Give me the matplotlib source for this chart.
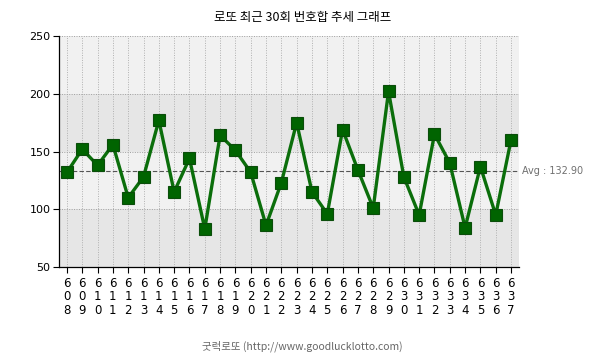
import matplotlib.pyplot as plt

plt.rcParams['font.family'] = ['Noto Sans CJK KR', 'DejaVu Sans']

rounds = list(range(608, 638))
sums = [132, 152, 138, 156, 110, 128, 177, 115, 144, 83,
        164, 151, 132, 86, 123, 175, 115, 96, 169, 134,
        101, 202, 128, 95, 165, 140, 84, 137, 95, 160]
avg = 132.90
y_ticks = [50, 100, 150, 200, 250]

fig = plt.figure(figsize=(6.05, 3.59), dpi=100)
ax = fig.add_axes([59 / 605, 1 - 267 / 359, 460 / 605, 231 / 359])

x = list(range(len(rounds)))

# alternating bands
band_cols = ['#e6e6e6', '#f1f1f1', '#e6e6e6', '#f1f1f1']
for i in range(4):
    ax.axhspan(y_ticks[i], y_ticks[i + 1], color=band_cols[i], zorder=0, lw=0)

for xi in x:
    ax.axvline(xi, color='#b0b0b0', lw=0.7, ls=(0, (1, 1.5)), zorder=1)
for yv in y_ticks[1:]:
    ax.axhline(yv, color='#a0a0a0', lw=0.7, ls=(0, (1, 1.5)), zorder=1)
ax.axvline(len(rounds) - 0.48, color='#b0b0b0', lw=0.7, ls=(0, (1, 1.5)), zorder=1)

ax.axhline(avg, color='#555555', lw=0.8, ls=(0, (4, 2)), zorder=2)
ax.text(len(rounds) - 0.3, avg, 'Avg : %.2f' % avg, color='#707070',
        fontsize=7, va='center', ha='left', family='DejaVu Sans')

ax.plot(x, sums, color='#0b6e0b', lw=2.4, marker='s', markersize=8.5,
        markerfacecolor='#006400', markeredgecolor='#0a4d0a',
        markeredgewidth=0.8, zorder=3)

ax.set_xlim(-0.52, len(rounds) - 0.48)
ax.set_ylim(50, 250)
ax.set_yticks(y_ticks)
ax.set_yticklabels([str(v) for v in y_ticks], fontsize=8, family='DejaVu Sans')
ax.set_xticks(x)
ax.set_xticklabels(['\n'.join(str(r)) for r in rounds], fontsize=8.5,
                   family='DejaVu Sans', linespacing=1.05)
ax.tick_params(axis='both', length=4, width=0.8, color='black', pad=2)
ax.tick_params(axis='x', pad=3)

for s in ['top', 'right']:
    ax.spines[s].set_visible(False)
ax.spines['left'].set_linewidth(0.9)
ax.spines['bottom'].set_linewidth(0.9)

fig.text(0.5, 1 - 17 / 359, '로또 최근 30회 번호합 추세 그래프', ha='center',
         va='center', fontsize=9)
fig.text(0.5, 1 - 346 / 359, '굿럭로또 (http://www.goodlucklotto.com)',
         ha='center', va='center', fontsize=7.5, color='#666666')

fig.savefig('out.png', dpi=100)
